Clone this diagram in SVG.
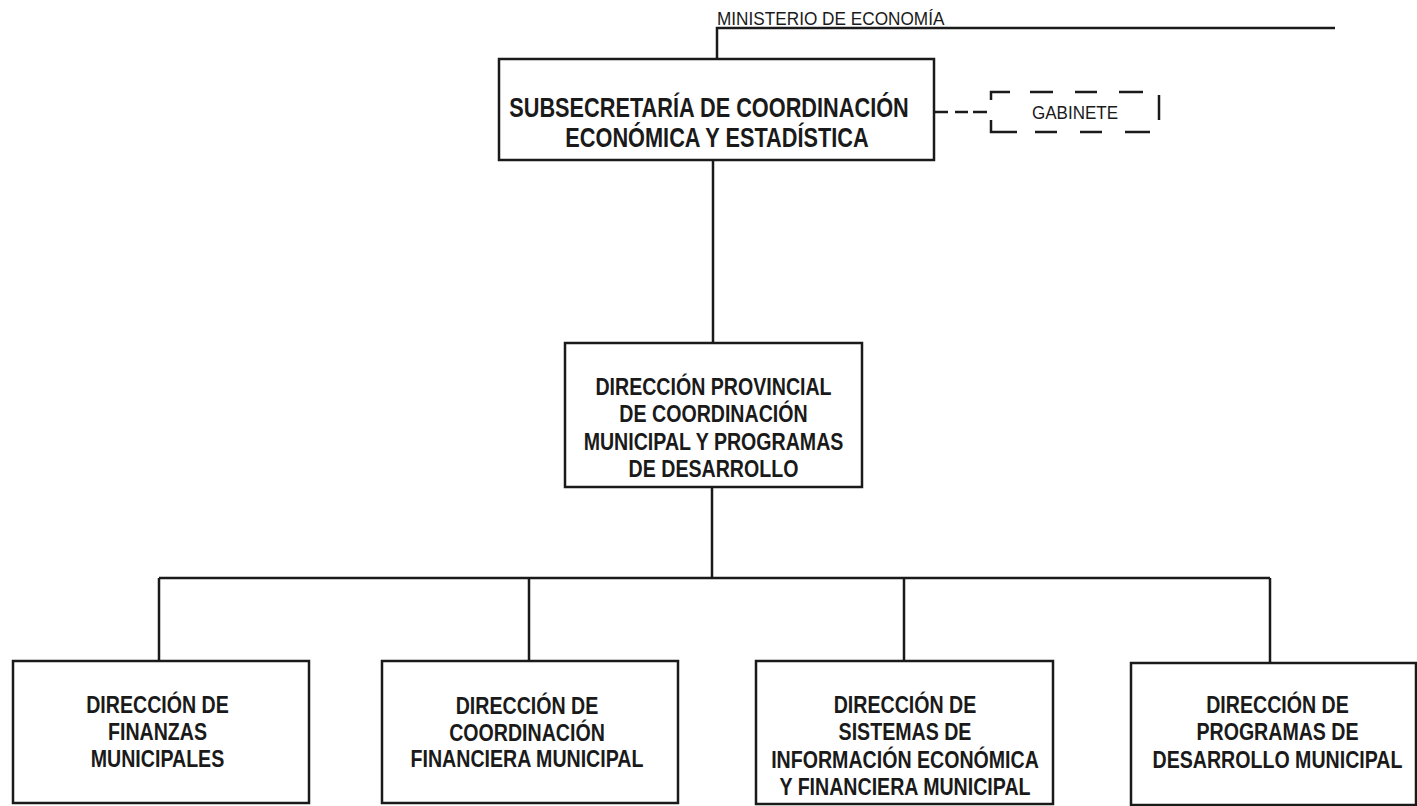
<svg xmlns="http://www.w3.org/2000/svg" width="1417" height="806" viewBox="0 0 1417 806">
<style>
.box{fill:#fff;stroke:#1a1a1a;stroke-width:2.5}
.ln{fill:none;stroke:#1a1a1a;stroke-width:2.5}
.t{font-family:"Liberation Sans",Arial,sans-serif;font-weight:bold;fill:#1a1a1a;text-anchor:middle}
.s{font-size:24.5px}
.big{font-size:27px}
.r{font-family:"Liberation Sans",Arial,sans-serif;fill:#1a1a1a}
</style>
<rect width="1417" height="806" fill="#fff"/>
<g id="connectors">
<path class="ln" d="M717,59 V28 H1335"/>
<path class="ln" d="M713,160 V343"/>
<path class="ln" d="M712,487 V578"/>
<path class="ln" d="M159,578 H1270"/>
<path class="ln" d="M159,578 V661 M529,578 V661 M904,578 V661 M1270,578 V663"/>
<path class="ln" d="M934,112 H948 M955,112 H968 M973,112 H987"/>
</g>
<g id="ministerio">
<text class="r" transform="matrix(0.93,0,0,1,717,25)" font-size="18.5">MINISTERIO DE ECONOMÍA</text>
</g>
<g id="subsecretaria">
<rect class="box" x="499" y="59" width="435" height="101"/>
<g transform="matrix(0.805,0,0,1,713,0)">
<text class="t big" x="-5" y="117">SUBSECRETARÍA DE COORDINACIÓN</text>
<text class="t big" x="5" y="147">ECONÓMICA Y ESTADÍSTICA</text>
</g>
</g>
<g id="gabinete">
<path class="ln" d="M991,100 V92 H1010 M1030,92 H1053 M1075,92 H1097 M1119,92 H1143 M1159,95 V120 M991,120 V132 H1017 M1035,132 H1057 M1080,132 H1102 M1125,132 H1150"/>
<text class="r" transform="matrix(0.945,0,0,1,1075,119)" font-size="18" text-anchor="middle">GABINETE</text>
</g>
<g id="provincial">
<rect class="box" x="565" y="343" width="297" height="144"/>
<g transform="matrix(0.8,0,0,1,713.5,0)">
<text class="t s" x="0" y="395">DIRECCIÓN PROVINCIAL</text>
<text class="t s" x="0" y="422">DE COORDINACIÓN</text>
<text class="t s" x="0" y="450">MUNICIPAL Y PROGRAMAS</text>
<text class="t s" x="0" y="477">DE DESARROLLO</text>
</g>
</g>
<g id="finanzas">
<rect class="box" x="13" y="661" width="296" height="142"/>
<g transform="matrix(0.8,0,0,1,157.5,0)">
<text class="t s" x="0" y="713">DIRECCIÓN DE</text>
<text class="t s" x="0" y="740">FINANZAS</text>
<text class="t s" x="0" y="767">MUNICIPALES</text>
</g>
</g>
<g id="coordinacion">
<rect class="box" x="382" y="661" width="296" height="142"/>
<g transform="matrix(0.8,0,0,1,527,0)">
<text class="t s" x="0" y="714">DIRECCIÓN DE</text>
<text class="t s" x="0" y="741">COORDINACIÓN</text>
<text class="t s" x="0" y="767">FINANCIERA MUNICIPAL</text>
</g>
</g>
<g id="sistemas">
<rect class="box" x="756" y="661" width="297" height="143"/>
<g transform="matrix(0.8,0,0,1,905,0)">
<text class="t s" x="0" y="713">DIRECCIÓN DE</text>
<text class="t s" x="0" y="740">SISTEMAS DE</text>
<text class="t s" x="0" y="768">INFORMACIÓN ECONÓMICA</text>
<text class="t s" x="0" y="795">Y FINANCIERA MUNICIPAL</text>
</g>
</g>
<g id="programas">
<rect class="box" x="1131" y="663" width="285" height="142"/>
<g transform="matrix(0.8,0,0,1,1277.5,0)">
<text class="t s" x="0" y="713">DIRECCIÓN DE</text>
<text class="t s" x="0" y="740">PROGRAMAS DE</text>
<text class="t s" x="0" y="768">DESARROLLO MUNICIPAL</text>
</g>
</g>
</svg>
